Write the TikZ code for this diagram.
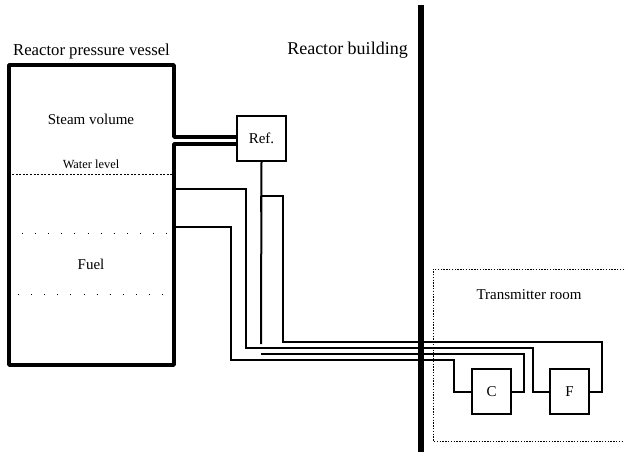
\documentclass[tikz,border=0pt]{standalone}
\usepackage{fontspec}
\setmainfont{Liberation Serif}
\begin{document}
\begin{tikzpicture}[x=1pt, y=-1pt, font=\fontsize{15}{17}\selectfont,
				box/.style={draw, line width=1.1pt, minimum width=39pt, minimum height=45pt, inner sep=0pt},
				pipe/.style={line width=2pt, line join=miter}]
				\useasboundingbox (0,0) rectangle (624,452);
				%Gebaeude und Raum
				\draw [line width=5.5pt] (421,5) -- (421,452);
				\draw [line width=0.8pt, dash pattern=on 1.4pt off 1.4pt] (624,269) -- (433,269) -- (433,441) -- (624,441);
				%Behaelter
				\node [draw, line width=1.8pt, minimum width=49pt, minimum height=45pt, inner sep=0pt] (ref) at (261.5,138.5) {Ref.};
				\coordinate (upper) at (237,137);
				\coordinate (lower) at (237,144);
				\draw [line width=3.8pt, line join=round] (upper) -- (174,137) -- (174,65) -- (9,65) -- (9,365) -- (174,365) -- (174,144) -- (lower);
				\draw [line width=0.8pt, dash pattern=on 2pt off 1.6pt] (12,174) -- (172,174);
				\draw [line width=0.8pt, dash pattern=on 1pt off 12.1pt] (22,233) -- (172,233);
				\draw [line width=0.8pt, dash pattern=on 1pt off 12.1pt] (18,294) -- (172,294);
				%Messumformer
				\node [box] (c) at (491.5,391.5) {C};
				\node [box] (f) at (569.5,391.5) {F};
				%Leitungen
				\coordinate (tapa) at (174,189);
				\coordinate (tapb) at (174,227);
				\coordinate (stemend) at (261,344);
				\coordinate (stemtee) at (261,196);
				\coordinate (stemthick) at (261,212);
				\coordinate (refline) at (261,353.5);
				\draw [pipe] (ref.south) -- (stemend);
				\draw [line width=2.8pt] (stemtee) -- (stemthick);
				\draw [pipe] (stemtee) -- (283,196) -- (283,342) -- (602,342) -- (602,391.5) -- (f.east);
				\draw [pipe] (tapa) -- (246,189) -- (246,348) -- (533,348) -- (533,391.5) -- (f.west);
				\draw [pipe] (refline) -- (524,353.5) -- (524,391.5) -- (c.east);
				\draw [pipe] (tapb) -- (231,227) -- (231,360) -- (454,360) -- (454,391.5) -- (c.west);
				%Beschriftung
				\node [font=\fontsize{16.7}{19}\selectfont] (vessel) at (91.5,51.5) {Reactor pressure vessel};
				\node [font=\fontsize{18}{20}\selectfont] (building) at (347.5,50) {Reactor building};
				\node (steam) at (91,119) {Steam volume};
				\node [font=\fontsize{12.4}{14}\selectfont] (water) at (91,164) {Water level};
				\node (fuel) at (91,264) {Fuel};
				\node (room) at (529,295) {Transmitter room};
			\end{tikzpicture}
\end{document}
